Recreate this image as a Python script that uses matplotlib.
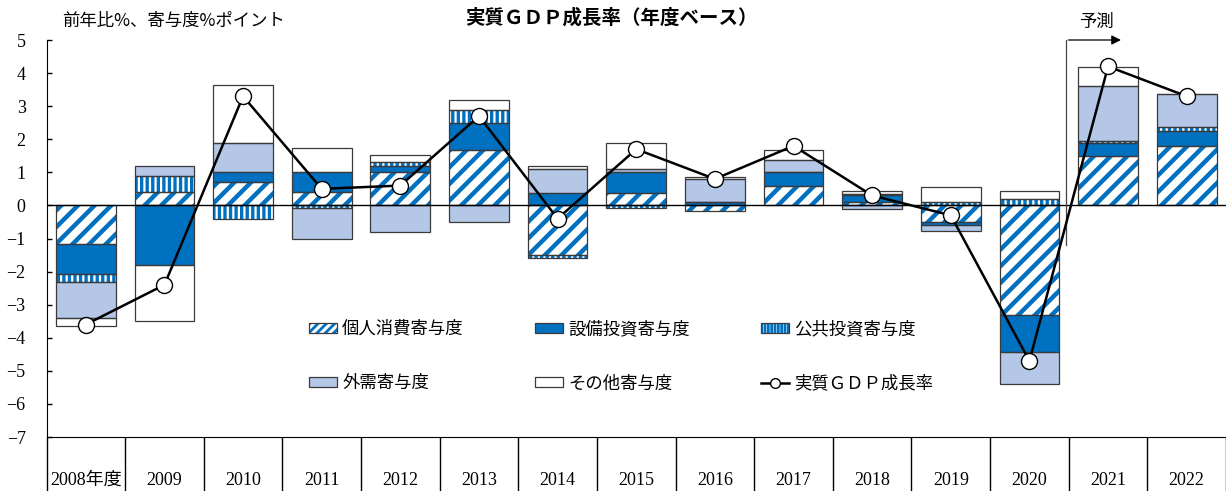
import numpy as np
import matplotlib
import matplotlib.pyplot as plt
from matplotlib.patches import Patch
from matplotlib.lines import Line2D

matplotlib.use("Agg")

plt.rcParams["font.family"] = ["Noto Sans CJK JP", "DejaVu Sans"]
plt.rcParams["hatch.linewidth"] = 3.0

# data (寄与度, %pt)
years = ["2008年度", "2009", "2010", "2011", "2012", "2013", "2014", "2015",
         "2016", "2017", "2018", "2019", "2020", "2021", "2022"]
consumption = [-1.18, 0.4, 0.7, 0.4, 1.0, 1.68, -1.5, 0.38, -0.18, 0.6, 0.1, -0.5, -3.31, 1.5, 1.8]
capex = [-0.9, -1.8, 0.3, 0.6, 0.2, 0.8, 0.38, 0.62, 0.1, 0.4, 0.2, -0.08, -1.13, 0.4, 0.46]
public = [-0.22, 0.5, -0.4, -0.08, 0.1, 0.4, -0.08, -0.08, 0.0, 0.0, 0.05, 0.1, 0.2, 0.06, 0.12]
external = [-1.1, 0.3, 0.9, -0.92, -0.8, -0.5, 0.72, 0.1, 0.7, 0.38, -0.1, -0.2, -0.96, 1.66, 0.98]
other = [-0.25, -1.7, 1.75, 0.73, 0.23, 0.32, 0.08, 0.78, 0.07, 0.3, 0.08, 0.47, 0.23, 0.55, 0.0]
gdp = [-3.6, -2.4, 3.3, 0.5, 0.6, 2.7, -0.4, 1.7, 0.8, 1.8, 0.3, -0.3, -4.7, 4.2, 3.3]

BLUE = "#0070C0"
LIGHT = "#B4C7E7"
EDGE = "#3a3a3a"

fig = plt.figure(figsize=(12.26, 4.91), dpi=100)
ax = fig.add_axes([46.5 / 1226, 54 / 491, (1226 - 46.5) / 1226, 397 / 491])

x = np.arange(len(years))
width = 0.76

components = [
    (consumption, "white", "//", BLUE, 3.2),
    (capex, BLUE, None, BLUE, None),
    (public, "white", "|||", BLUE, 2.4),
    (external, LIGHT, None, LIGHT, None),
    (other, "white", None, "white", None),
]

pos_base = np.zeros(len(x))
neg_base = np.zeros(len(x))
for vals, face, hatch, hcol, hlw in components:
    v = np.array(vals)
    bottom = np.where(v >= 0, pos_base, neg_base)
    bars = ax.bar(x, v, width, bottom=bottom, color=face, hatch=hatch,
                  edgecolor=hcol, linewidth=0, zorder=2)
    if hlw is not None:
        for p in bars:
            if hasattr(p, "set_hatch_linewidth"):
                p.set_hatch_linewidth(hlw)
    ax.bar(x, v, width, bottom=bottom, fill=False, edgecolor=EDGE,
           linewidth=0.9, zorder=2.2)
    pos_base += np.where(v > 0, v, 0)
    neg_base += np.where(v < 0, v, 0)

ax.axhline(0, color="black", lw=1, zorder=2.5)

ax.plot(x, gdp, color="black", lw=1.8, marker="o", ms=11.5,
        mfc="white", mec="black", mew=1, zorder=5)

# legend
h_cons = (Patch(facecolor="white", hatch="////", edgecolor=BLUE, lw=0),
          Patch(fill=False, edgecolor=EDGE, lw=0.9))
h_capex = Patch(facecolor=BLUE, edgecolor=EDGE, lw=0.9)
h_pub = (Patch(facecolor="white", hatch="|||||", edgecolor=BLUE, lw=0),
         Patch(fill=False, edgecolor=EDGE, lw=0.9))
h_ext = Patch(facecolor=LIGHT, edgecolor=EDGE, lw=0.9)
h_oth = Patch(facecolor="white", edgecolor=EDGE, lw=0.9)
h_gdp = Line2D([], [], color="black", lw=1.8, marker="o", ms=7,
               mfc="white", mec="black", mew=1)
handles = [h_cons, h_ext, h_capex, h_oth, h_pub, h_gdp]
labels = ["個人消費寄与度", "外需寄与度", "設備投資寄与度", "その他寄与度",
          "公共投資寄与度", "実質ＧＤＰ成長率"]
leg = ax.legend(handles, labels, ncol=3, loc="upper left",
                bbox_to_anchor=(0.2226, 0.295), frameon=False, fontsize=12.5,
                handlelength=1.6, handleheight=0.5, handletextpad=0.3,
                columnspacing=4.12, labelspacing=2.1, borderpad=0, borderaxespad=0)
for h in leg.legend_handles:
    if hasattr(h, "set_hatch_linewidth"):
        h.set_hatch_linewidth(2.0)

# axes styling
ax.set_xlim(-0.5, -0.5 + (1226 - 46.5) / 79.3)
ax.set_ylim(-7, 5)
ax.set_yticks(np.arange(-7, 6, 1))
ax.set_xticks(np.arange(-0.5, len(x), 1))
ax.set_xticklabels([])
ax.set_xticks(x, minor=True)
ax.set_xticklabels(years, minor=True)
ax.tick_params(axis="x", which="major", length=39, width=1, direction="out")
ax.tick_params(axis="x", which="minor", length=0, pad=25)
ax.tick_params(axis="y", direction="in", length=3.6, width=1, pad=15)
for lab in ax.get_yticklabels() + ax.get_xticklabels(minor=True):
    lab.set_family(["Liberation Serif", "Noto Sans CJK JP"])
    lab.set_fontsize(13)
for side in ["top", "right"]:
    ax.spines[side].set_visible(False)

# 予測 marker
ax.plot([12.46, 12.46], [-1.2, 5.0], color="#444444", lw=0.9, clip_on=False, zorder=4)
ax.annotate("", xy=(13.2, 5.0), xytext=(12.46, 5.0),
            arrowprops=dict(arrowstyle="-|>", color="black", lw=0.9, mutation_scale=14),
            annotation_clip=False)
ax.text(12.85, 5.55, "予測", ha="center", va="center", fontsize=12.5, clip_on=False)

fig.text(611 / 1226, 1 - 18 / 491, "実質ＧＤＰ成長率（年度ベース）",
         ha="center", va="center", fontsize=14, fontweight="bold")
fig.text(62 / 1226, 1 - 21 / 491, "前年比%、寄与度%ポイント",
         ha="left", va="center", fontsize=12.5)

fig.savefig("out.png", dpi=100)
